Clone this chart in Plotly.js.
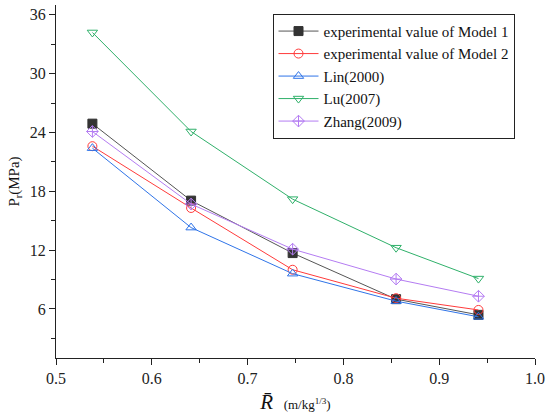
<!DOCTYPE html>
<html>
<head>
<meta charset="utf-8">
<script src="https://cdn.plot.ly/plotly-3.0.1.min.js"></script>
<style>html,body{margin:0;padding:0;background:#fff;}#chart{width:550px;height:420px;}</style>
</head>
<body>
<div id="chart"></div>
<script>
const xValues = [0.538, 0.641, 0.747, 0.855, 0.941];
const seriesNames = ["experimental value of Model 1", "experimental value of Model 2", "Lin(2000)", "Lu(2007)", "Zhang(2009)"];
const model1 = [24.9, 17.05, 11.7, 7.0, 5.4];
const model2 = [22.6, 16.3, 10.0, 7.1, 5.9];
const lin2000 = [22.4, 14.3, 9.6, 6.8, 5.2];
const lu2007 = [34.2, 24.1, 17.2, 12.25, 9.1];
const zhang2009 = [24.1, 16.7, 12.1, 9.05, 7.3];

const seriesValues = [model1, model2, lin2000, lu2007, zhang2009];
const lineColors = ["#555555", "#ff3b3b", "#2f74e8", "#2fb06a", "#b47cf2"];
const markerColors = ["#333333", "#ff3b3b", "#2f74e8", "#2fb06a", "#b47cf2"];
const symbols = ["square", "circle-open", "triangle-up-open", "triangle-down-open", "diamond-cross-open"];

const traces = seriesValues.map((vals, i) => ({
  x: xValues,
  y: vals,
  name: seriesNames[i],
  type: "scatter",
  mode: "lines+markers",
  line: {color: lineColors[i], width: 1},
  marker: {symbol: symbols[i], size: 9, color: markerColors[i], line: {color: markerColors[i], width: 1}}
}));

const serif = "Liberation Serif, Times New Roman, serif";
const layout = {
  width: 550, height: 420,
  margin: {l: 56, r: 15, t: 5, b: 62},
  paper_bgcolor: "#fff", plot_bgcolor: "#fff",
  showlegend: true,
  legend: {
    x: 0.452, y: 0.975, xanchor: "left", yanchor: "top",
    bordercolor: "#222", borderwidth: 1, bgcolor: "#fff",
    font: {family: serif, size: 15, color: "#111"},
    tracegroupgap: 0, itemwidth: 40, entrywidth: 0
  },
  xaxis: {
    range: [0.5, 1.0], dtick: 0.1, tick0: 0.5, tickformat: ".1f",
    showgrid: false, zeroline: false, showline: true, linecolor: "#222", linewidth: 1,
    ticks: "outside", ticklen: 6, tickcolor: "#222",
    minor: {dtick: 0.05, ticks: "outside", ticklen: 4, tickcolor: "#222"},
    tickfont: {family: serif, size: 16, color: "#222"},
    title: {text: "<i>R̄</i>  <span style=\"font-size:13px\">(m/kg<sup>1/3</sup>)</span>", font: {family: serif, size: 21, color: "#111"}, standoff: 8}
  },
  yaxis: {
    range: [1, 37], dtick: 6, tick0: 0,
    showgrid: false, zeroline: false, showline: true, linecolor: "#222", linewidth: 1,
    ticks: "outside", ticklen: 6, tickcolor: "#222",
    minor: {dtick: 3, tick0: 0, ticks: "outside", ticklen: 4, tickcolor: "#222"},
    tickfont: {family: serif, size: 16, color: "#222"},
    title: {text: "P<sub>r</sub>(MPa)", font: {family: serif, size: 15, color: "#111"}, standoff: 6}
  }
};

Plotly.newPlot("chart", traces, layout, {displayModeBar: false, staticPlot: true});
</script>
</body>
</html>
